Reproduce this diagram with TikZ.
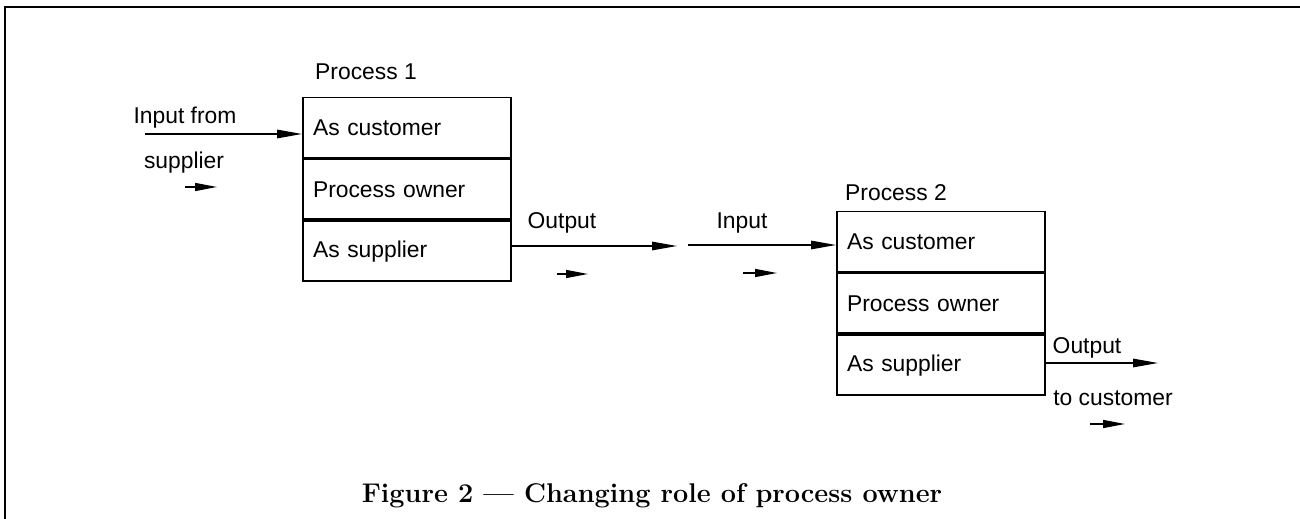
\documentclass[tikz,border=0pt]{standalone}
\usepackage{fontspec}
\newfontfamily\draftfont{Liberation Sans}
\usetikzlibrary{arrows.meta,positioning}
\tikzset{
  role/.style={draw, line width=1.1pt, rectangle, minimum height=1.2cm,
    inner xsep=0.2cm, text width=3.76cm, align=left, font=\draftfont\fontsize{13}{15}\selectfont},
  lbl/.style={inner sep=0pt, font=\draftfont\fontsize{13}{15}\selectfont},
  flow/.style={->, line width=0.8pt}
}
\begin{document}
\begin{tikzpicture}[x=0.02cm, y=-0.02cm, >={Triangle[length=0.5cm,width=0.17cm]}]
    \useasboundingbox (0,0) rectangle (1300,519);
    \draw[line width=1.3pt] (5,519) -- (5,7) -- (1300,7);

    \node[role] (p1cust) at (407,127.5) {As customer};
    \node[role, below=0pt of p1cust] (p1own) {Process owner};
    \node[role, below=0pt of p1own] (p1supp) {As supplier};
    \node[lbl] (p1name) at (366,72) {Process 1};

    \node[role] (p2cust) at (941,241.5) {As customer};
    \node[role, below=0pt of p2cust] (p2own) {Process owner};
    \node[role, below=0pt of p2own] (p2supp) {As supplier};
    \node[lbl] (p2name) at (896,193) {Process 2};

    \node[lbl] (infrom) at (185,118) {Input from};
    \node[lbl] (insupp) at (184,163) {supplier};
    \coordinate (instart) at (145,134);
    \draw[flow] (instart) -- (p1cust.west |- instart);

    \node[lbl] (out1) at (562,223) {Output};
    \coordinate (out1end) at (677,246);
    \draw[flow] (p1supp.east |- out1end) -- (out1end);

    \node[lbl] (in2) at (742,223) {Input};
    \coordinate (in2start) at (688,245);
    \draw[flow] (in2start) -- (p2cust.west |- in2start);

    \node[lbl] (out2) at (1087,348) {Output};
    \node[lbl] (tocust) at (1113,398) {to customer};
    \coordinate (out2end) at (1158,363);
    \draw[flow] (p2supp.east |- out2end) -- (out2end);

    \coordinate (d1a) at (185,187); \coordinate (d1b) at (217,187);
    \coordinate (d2a) at (557,274); \coordinate (d2b) at (588,274);
    \coordinate (d3a) at (743,273); \coordinate (d3b) at (777,273);
    \coordinate (d4a) at (1090,424); \coordinate (d4b) at (1125,424);
    \foreach \i in {1,...,4}
        \draw[flow, >={Triangle[length=0.44cm,width=0.16cm]}] (d\i a) -- (d\i b);

    \node[font=\bfseries\fontsize{15.4}{18}\selectfont] (caption) at (652,496)
        {Figure 2 --- Changing role of process owner};
\end{tikzpicture}
\end{document}
